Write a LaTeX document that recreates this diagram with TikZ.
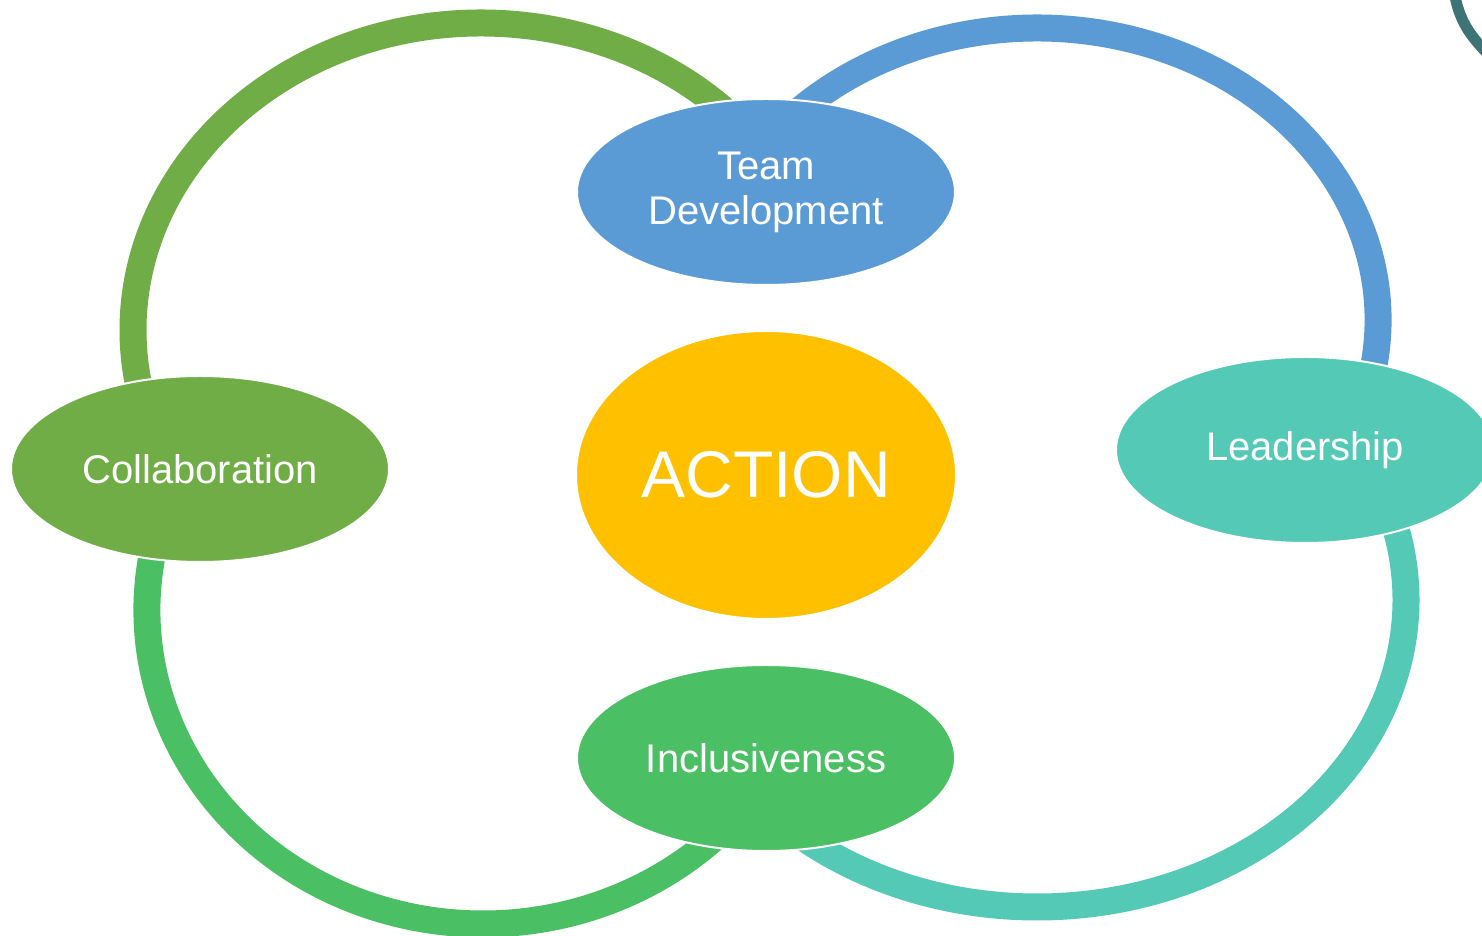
\documentclass[tikz,border=0pt]{standalone}
\usepackage{fontspec}
\setmainfont{Liberation Sans}
\usetikzlibrary{shapes.geometric}

\definecolor{leafgreen}{HTML}{70AD47}
\definecolor{skyblue}{HTML}{5B9BD5}
\definecolor{seateal}{HTML}{53C9B6}
\definecolor{grassgreen}{HTML}{4BBF63}
\definecolor{sungold}{HTML}{FFC000}
\definecolor{deepteal}{HTML}{3F7476}

\begin{document}
\begin{tikzpicture}[x=1pt, y=1pt,
    ring/.style={line width=27pt},
    petal/.style={ellipse, draw=white, line width=2pt, minimum width=378pt,
        minimum height=186pt, inner sep=0pt, text=white, align=center,
        font=\fontsize{40}{45}\selectfont},
    hub/.style={petal, minimum width=380pt, minimum height=288pt,
        font=\fontsize{66}{76}\selectfont}]
    \useasboundingbox (0,0) rectangle (1482,936);
    % ring centres
    \coordinate (cA) at (481,606);
    \coordinate (cB) at (1037,616);
    \coordinate (cC) at (1037,336);
    \coordinate (cD) at (483,326);
    % rings, ends hidden under the ellipses
    \draw[ring, leafgreen] (cA) ++(40:348pt and 307pt)
        arc[start angle=40, end angle=195, x radius=348pt, y radius=307pt];
    \draw[ring, skyblue] (cB) ++(-15:341pt and 292pt)
        arc[start angle=-15, end angle=140, x radius=341pt, y radius=292pt];
    \draw[ring, seateal] (cC) ++(-135:369pt and 307pt)
        arc[start angle=-135, end angle=15, x radius=369pt, y radius=307pt];
    \draw[ring, grassgreen] (cD) ++(165:336pt and 314pt)
        arc[start angle=165, end angle=320, x radius=336pt, y radius=314pt];
    % corner arc
    \begin{scope}
        \clip (0,0) rectangle (1482,936);
        \draw[deepteal, line width=11pt] (1454,945) .. controls (1459,915) and (1470,900) .. (1490,880);
    \end{scope}
    \node[petal, fill=skyblue] (team) at (766,744) {Team\\Development};
    \node[hub, fill=sungold] (action) at (766,461) {ACTION};
    \node[petal, fill=leafgreen] (collab) at (200,467) {Collaboration};
    \node[petal, fill=seateal] (lead) at (1305,486) {Leadership};
    \node[petal, fill=grassgreen] (incl) at (766,178) {Inclusiveness};
\end{tikzpicture}
\end{document}
